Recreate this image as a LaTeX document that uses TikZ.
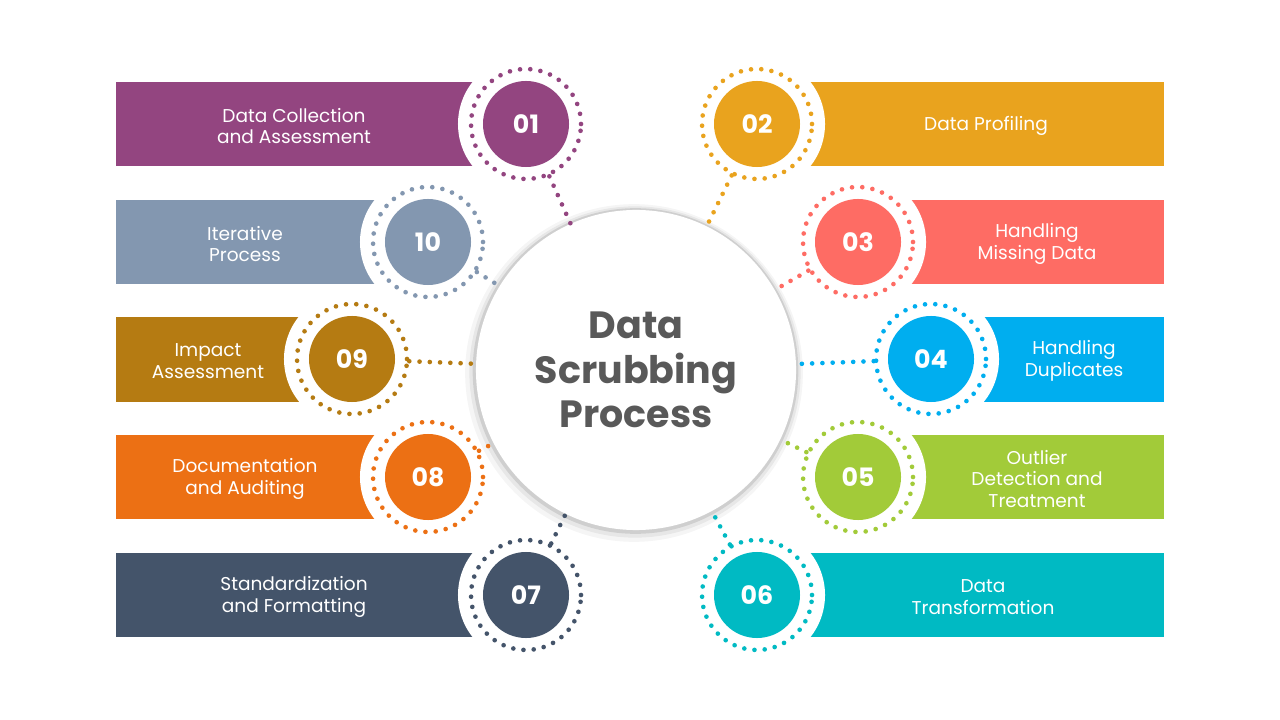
\documentclass[tikz,border=0pt]{standalone}
\usepackage{fontspec}
\setmainfont{Poppins}
\usetikzlibrary{positioning}

\definecolor{cOne}{HTML}{934580}
\definecolor{cTwo}{HTML}{E9A31E}
\definecolor{cThree}{HTML}{FE6C64}
\definecolor{cFour}{HTML}{00AEEF}
\definecolor{cFive}{HTML}{A2CB39}
\definecolor{cSix}{HTML}{00BAC3}
\definecolor{cSeven}{HTML}{44546A}
\definecolor{cEight}{HTML}{EC7014}
\definecolor{cNine}{HTML}{B57B12}
\definecolor{cTen}{HTML}{8397B0}
\definecolor{titlegray}{HTML}{595959}

\begin{document}
\begin{tikzpicture}[x=0.025cm, y=-0.025cm,
    cutout/.style={circle, fill=white, minimum size=3.4cm, inner sep=0pt},
    ring/.style={circle, draw, line width=3.3pt, dash pattern=on 0pt off 7.3pt, line cap=round, minimum size=2.75cm, inner sep=0pt},
    num/.style={circle, minimum size=2.15cm, inner sep=0pt, text=white, font=\bfseries\fontsize{18}{20}\selectfont},
    lbl/.style={text=white, align=center, font=\fontsize{13.2}{15.6}\selectfont},
    link/.style={line width=3.3pt, dash pattern=on 0pt off 7.3pt, line cap=round}]
    \useasboundingbox (0,0) rectangle (1280,720);

    % Left bars
    \fill[cOne] (116,82) rectangle (526,166);
    \fill[cTen] (116,200) rectangle (428,284);
    \fill[cNine] (116,317) rectangle (352,402);
    \fill[cEight] (116,435) rectangle (428,519);
    \fill[cSeven] (116,553) rectangle (526,637);

    % Right bars
    \fill[cTwo] (757,82) rectangle (1164,166);
    \fill[cThree] (858,200) rectangle (1164,284);
    \fill[cFour] (931,317) rectangle (1164,402);
    \fill[cFive] (858,435) rectangle (1164,519);
    \fill[cSix] (757,553) rectangle (1164,637);

    % White cut-outs round the number discs
    \node[cutout] (w01) at (526,124) {};
    \node[cutout] (w10) at (428,242) {};
    \node[cutout] (w09) at (352,359) {};
    \node[cutout] (w08) at (428,477) {};
    \node[cutout] (w07) at (526,595) {};
    \node[cutout] (w02) at (757,124) {};
    \node[cutout] (w03) at (858,242) {};
    \node[cutout] (w04) at (931,359) {};
    \node[cutout] (w05) at (858,477) {};
    \node[cutout] (w06) at (757,595) {};

    % Centre circle with soft shadow
    \fill[black, opacity=0.04] (634,373) circle (4.22cm);
    \fill[black, opacity=0.06] (635,372) circle (4.14cm);
    \fill[black, opacity=0.10] (635.5,371) circle (4.07cm);
    \node[circle, fill=white, minimum size=8cm, inner sep=0pt, align=center,
          text=titlegray, font=\bfseries\fontsize{27}{31.5}\selectfont] (ctr) at (636,370)
          {Data\\Scrubbing\\Process};

    % Dotted rings
    \node[ring, cOne] (r01) at (526,124) {};
    \node[ring, cTen] (r10) at (428,242) {};
    \node[ring, cNine] (r09) at (352,359) {};
    \node[ring, cEight] (r08) at (428,477) {};
    \node[ring, cSeven] (r07) at (526,595) {};
    \node[ring, cTwo] (r02) at (757,124) {};
    \node[ring, cThree] (r03) at (858,242) {};
    \node[ring, cFour] (r04) at (931,359) {};
    \node[ring, cFive] (r05) at (858,477) {};
    \node[ring, cSix] (r06) at (757,595) {};

    % Dotted links to the centre
    \draw[link, cOne] (r01) -- (ctr);
    \draw[link, cTen] (r10) -- (ctr);
    \draw[link, cNine] (r09) -- (ctr);
    \draw[link, cEight] (r08) -- (ctr);
    \draw[link, cSeven] (r07) -- (ctr);
    \draw[link, cTwo] (r02) -- (ctr);
    \draw[link, cThree] (r03) -- (ctr);
    \draw[link, cFour] (r04) -- (ctr);
    \draw[link, cFive] (r05) -- (ctr);
    \draw[link, cSix] (r06) -- (ctr);

    % Number discs
    \node[num, fill=cOne] (n01) at (526,124) {01};
    \node[num, fill=cTen] (n10) at (428,242) {10};
    \node[num, fill=cNine] (n09) at (352,359) {09};
    \node[num, fill=cEight] (n08) at (428,477) {08};
    \node[num, fill=cSeven] (n07) at (526,595) {07};
    \node[num, fill=cTwo] (n02) at (757,124) {02};
    \node[num, fill=cThree] (n03) at (858,242) {03};
    \node[num, fill=cFour] (n04) at (931,359) {04};
    \node[num, fill=cFive] (n05) at (858,477) {05};
    \node[num, fill=cSix] (n06) at (757,595) {06};

    % Labels
    \node[lbl] (t01) at (294,126) {Data Collection\\and Assessment};
    \node[lbl] (t10) at (245,244) {Iterative\\Process};
    \node[lbl] (t09) at (208,361) {Impact\\Assessment};
    \node[lbl] (t08) at (245,479) {Documentation\\and Auditing};
    \node[lbl] (t07) at (294,597) {Standardization\\and Formatting};
    \node[lbl] (t02) at (986,126) {Data Profiling};
    \node[lbl] (t03) at (1037,244) {Handling\\Missing Data};
    \node[lbl] (t04) at (1074,361) {Handling\\Duplicates};
    \node[lbl] (t05) at (1037,479) {Outlier\\Detection and\\Treatment};
    \node[lbl] (t06) at (983,597) {Data\\Transformation};
\end{tikzpicture}
\end{document}
